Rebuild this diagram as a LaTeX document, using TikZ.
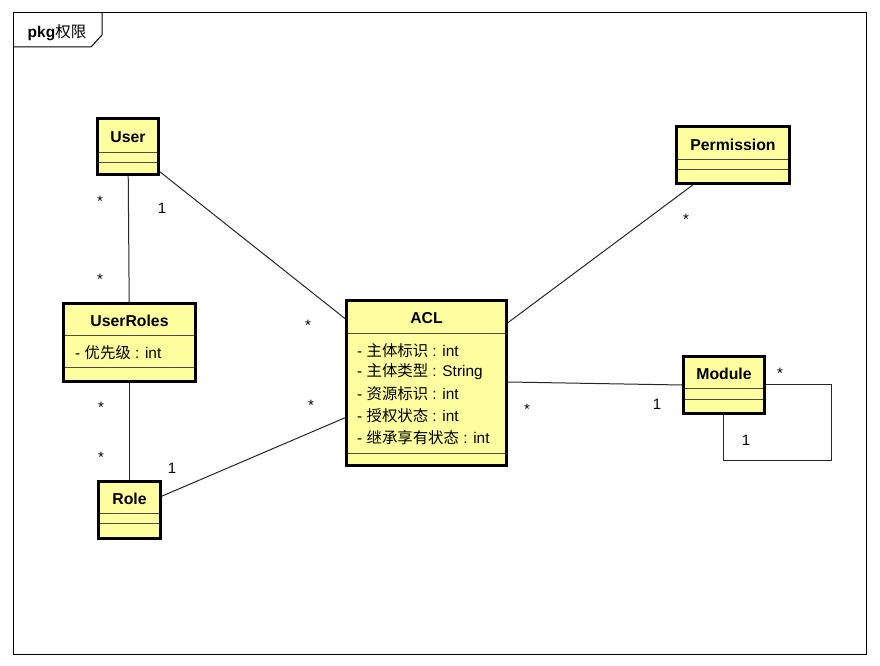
\documentclass[tikz,border=0pt]{standalone}
\usepackage{fontspec}
\setmainfont{Liberation Sans}
\newfontfamily\cjk{Noto Sans CJK SC}
\newcommand\zh[1]{{\cjk #1}}
\definecolor{umlfill}{RGB}{255,255,160}
\begin{document}
\begin{tikzpicture}[x=1pt,y=-1pt,
  cls/.style={draw=black, line width=3pt, fill=umlfill, rectangle, inner sep=0pt},
  sep/.style={draw=black!70, line width=1pt},
  ttl/.style={font=\fontsize{15.8}{18}\selectfont\bfseries, inner sep=0pt},
  attr/.style={font=\fontsize{15.4}{17}\selectfont, inner sep=0pt, anchor=west},
  conn/.style={draw=black!85, line width=1pt},
  lab/.style={font=\fontsize{15}{17}\selectfont, inner sep=0pt}]
\useasboundingbox (0,0) rectangle (880,666);
% frame
\draw[line width=1pt] (13,13) rectangle (866,654);
\draw[line width=1pt] (13,47) -- (91,47) -- (102,35) -- (102,13);
\node[font=\fontsize{15.5}{18}\selectfont, inner sep=0pt] (tab) at (57,33) {\textbf{pkg}\zh{权限}};
% classes
\node[cls, minimum width=61pt, minimum height=56pt] (user) at (128,146.5) {};
\node[cls, minimum width=132pt, minimum height=78pt] (userroles) at (129.5,342.5) {};
\node[cls, minimum width=62pt, minimum height=57pt] (role) at (129.5,510) {};
\node[cls, minimum width=160pt, minimum height=165pt] (acl) at (426.5,383) {};
\node[cls, minimum width=113pt, minimum height=57pt] (perm) at (733,155) {};
\node[cls, minimum width=81pt, minimum height=57pt] (module) at (724,385) {};
% compartments
\draw[sep] (99,152) -- (157,152); \draw[sep] (99,162) -- (157,162);
\draw[sep] (65,335) -- (194,335); \draw[sep] (65,367) -- (194,367);
\draw[sep] (100,513) -- (159,513); \draw[sep] (100,523) -- (159,523);
\draw[sep] (348,333) -- (505,333); \draw[sep] (348,453) -- (505,453);
\draw[sep] (678,159) -- (788,159); \draw[sep] (678,169) -- (788,169);
\draw[sep] (685,388) -- (763,388); \draw[sep] (685,399) -- (763,399);
% titles
\node[ttl] (userT) at (128,137) {User};
\node[ttl] (userrolesT) at (129.5,321) {UserRoles};
\node[ttl] (roleT) at (129.5,499) {Role};
\node[ttl] (aclT) at (426.5,318) {ACL};
\node[ttl] (permT) at (733,145) {Permission};
\node[ttl] (moduleT) at (724,374) {Module};
% attributes
\node[attr] (ur1) at (75,353) {- \zh{优先级} : int};
\node[attr] (a1) at (357,351) {- \zh{主体标识} : int};
\node[attr] (a2) at (357,372) {- \zh{主体类型} : String};
\node[attr] (a3) at (357,394) {- \zh{资源标识} : int};
\node[attr] (a4) at (357,416) {- \zh{授权状态} : int};
\node[attr] (a5) at (357,438) {- \zh{继承享有状态} : int};
% connectors
\draw[conn] (user) -- (userroles);
\draw[conn] (userroles) -- (role);
\draw[conn] (user) -- (acl);
\draw[conn] (role) -- (acl);
\draw[conn] (perm) -- (acl);
\draw[conn] (acl.east |- 0,382) -- (module.west |- 0,385);
\coordinate (m1) at (831,384);
\coordinate (m2) at (831,460);
\coordinate (m3) at (723,460);
\draw[conn] (module.east |- m1) -- (m1) -- (m2) -- (m3) -- (m3 |- module.south);
% multiplicities
\node[lab, anchor=base] (l1) at (100,206) {*};
\node[lab] (l2) at (162,208) {1};
\node[lab, anchor=base] (l3) at (100,284) {*};
\node[lab, anchor=base] (l4) at (308,330) {*};
\node[lab, anchor=base] (l5) at (101,412) {*};
\node[lab, anchor=base] (l6) at (101,462) {*};
\node[lab] (l7) at (172,468) {1};
\node[lab, anchor=base] (l8) at (311,410) {*};
\node[lab, anchor=base] (l9) at (686,224) {*};
\node[lab, anchor=base] (l10) at (527,414) {*};
\node[lab] (l11) at (657,404) {1};
\node[lab, anchor=base] (l12) at (780,378) {*};
\node[lab] (l13) at (746,440) {1};
\end{tikzpicture}
\end{document}
